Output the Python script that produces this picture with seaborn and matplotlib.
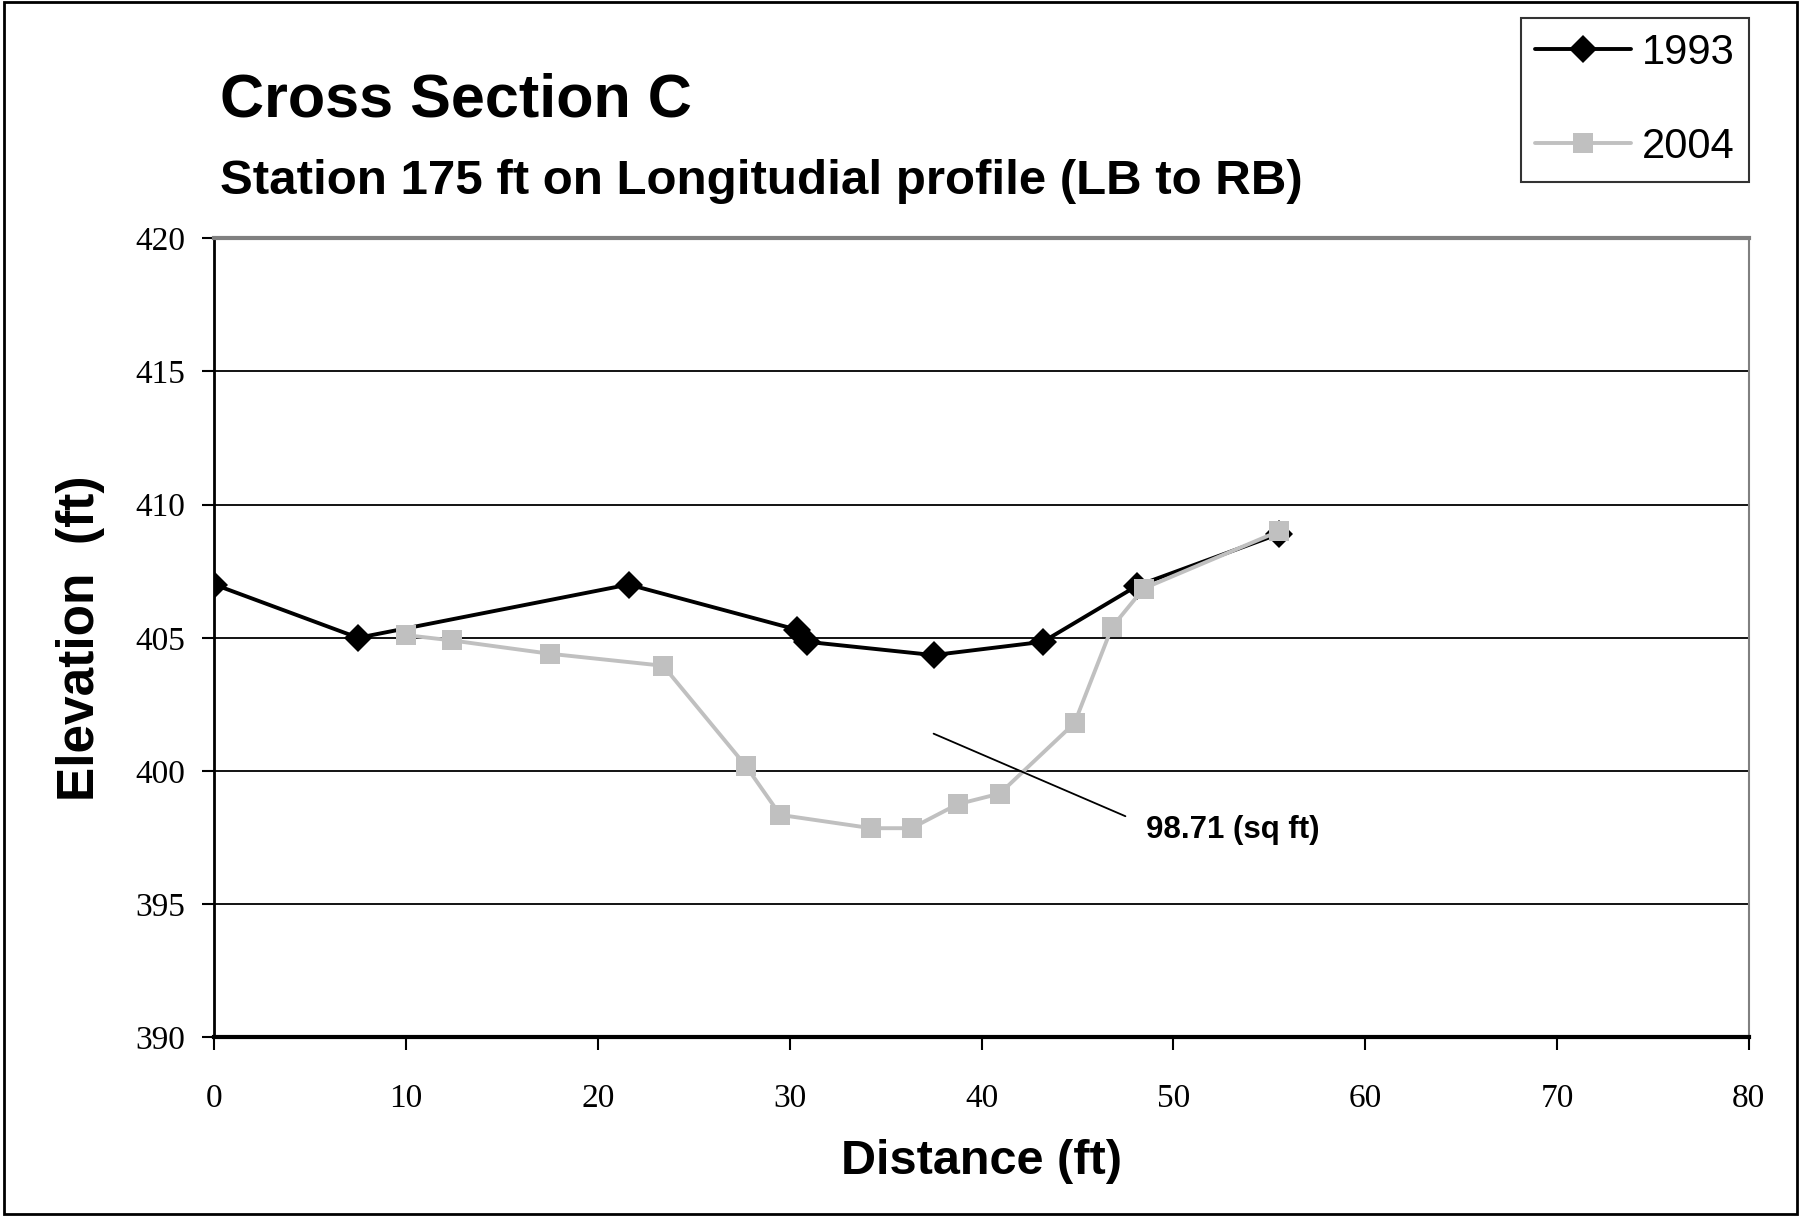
import pandas as pd
import matplotlib.pyplot as plt
import seaborn as sns
from matplotlib.patches import Rectangle
from matplotlib.lines import Line2D

# survey data, cross section C
dist_1993 = [0, 7.5, 21.6, 30.4, 30.9, 37.5, 43.2, 48.1, 55.5]
elev_1993 = [407.0, 405.0, 407.0, 405.3, 404.85, 404.35, 404.85, 406.95, 408.9]

dist_2004 = [10.0, 12.4, 17.5, 23.4, 27.7, 29.5, 34.25, 36.35, 38.75, 40.95, 44.85, 46.8, 48.45, 55.5]
elev_2004 = [405.1, 404.9, 404.4, 403.95, 400.2, 398.35, 397.85, 397.85, 398.75, 399.15, 401.8, 405.4, 406.85, 409.0]

area_label = "98.71 (sq ft)"
leader_x = [37.5, 47.5]
leader_y = [401.4, 398.3]
label_pos = (48.6, 397.8)

df = pd.DataFrame({
    'Distance': dist_1993 + dist_2004,
    'Elevation': elev_1993 + elev_2004,
    'Year': ['1993'] * len(dist_1993) + ['2004'] * len(dist_2004),
})

sns.set_style("white")
plt.rcParams['text.color'] = 'black'
plt.rcParams['axes.labelcolor'] = 'black'
plt.rcParams['xtick.color'] = 'black'
plt.rcParams['ytick.color'] = 'black'
sans = ['Liberation Sans', 'DejaVu Sans']
serif = ['Liberation Serif', 'DejaVu Serif']

fig = plt.figure(figsize=(18.01, 12.16), dpi=100)
ax = fig.add_axes([0.119, 0.147, 0.852, 0.657])

sns.lineplot(data=df, x='Distance', y='Elevation', hue='Year', style='Year',
             palette={'1993': 'black', '2004': '#c0c0c0'},
             markers={'1993': 'D', '2004': 's'}, dashes=False,
             markersize=14, linewidth=2.8, markeredgewidth=0, sort=False,
             estimator=None, ax=ax, legend=False)

ax.set_xlim(0, 80)
ax.set_ylim(390, 420)
ax.set_xticks(range(0, 81, 10))
ax.set_yticks(range(390, 421, 5))
ax.yaxis.grid(True, color='black', linewidth=1.3)
ax.xaxis.grid(False)
for t in ax.get_xticklabels() + ax.get_yticklabels():
    t.set_family(serif)
    t.set_fontsize(24)
ax.tick_params(axis='both', direction='out', length=9, width=1.5, color='black', left=True, bottom=True)
ax.tick_params(axis='x', pad=24)
ax.tick_params(axis='y', pad=12)

ax.spines['left'].set_color('black')
ax.spines['left'].set_linewidth(2)
ax.spines['bottom'].set_color('black')
ax.spines['bottom'].set_linewidth(3)
ax.spines['top'].set_color('#808080')
ax.spines['top'].set_linewidth(3)
ax.spines['right'].set_color('#808080')
ax.spines['right'].set_linewidth(1.5)

ax.set_xlabel('Distance (ft)', family=sans, fontweight='bold', fontsize=35, labelpad=18)
ax.set_ylabel('Elevation  (ft)', family=sans, fontweight='bold', fontsize=37, labelpad=22)

ax.plot(leader_x, leader_y, color='black', linewidth=1.3)
ax.text(label_pos[0], label_pos[1], area_label, family=sans, fontweight='bold',
        fontsize=22.5, ha='left', va='center')

fig.text(0.1224, 0.917, 'Cross Section C', family=sans, fontweight='bold', fontsize=44, va='center')
fig.text(0.1224, 0.851, 'Station 175 ft on Longitudial profile (LB to RB)', family=sans,
         fontweight='bold', fontsize=35.5, va='center')

# legend box outside the plot area
handles = [Line2D([], [], color='black', marker='D', markersize=14, linewidth=2.8, markeredgewidth=0),
           Line2D([], [], color='#c0c0c0', marker='s', markersize=14, linewidth=2.8, markeredgewidth=0)]
leg = fig.legend(handles, ['1993', '2004'], loc='upper right', bbox_to_anchor=(0.971, 0.985),
                 prop={'family': sans, 'size': 30}, frameon=True, fancybox=False,
                 edgecolor='black', handlelength=2.3, handletextpad=0.25, borderpad=0.35,
                 labelspacing=1.3, borderaxespad=0)
leg.get_frame().set_linewidth(1.5)

fig.patches.append(Rectangle((0.002, 0.002), 0.996, 0.996, transform=fig.transFigure,
                             fill=False, edgecolor='black', linewidth=2))

fig.savefig('out.png', dpi=100)
